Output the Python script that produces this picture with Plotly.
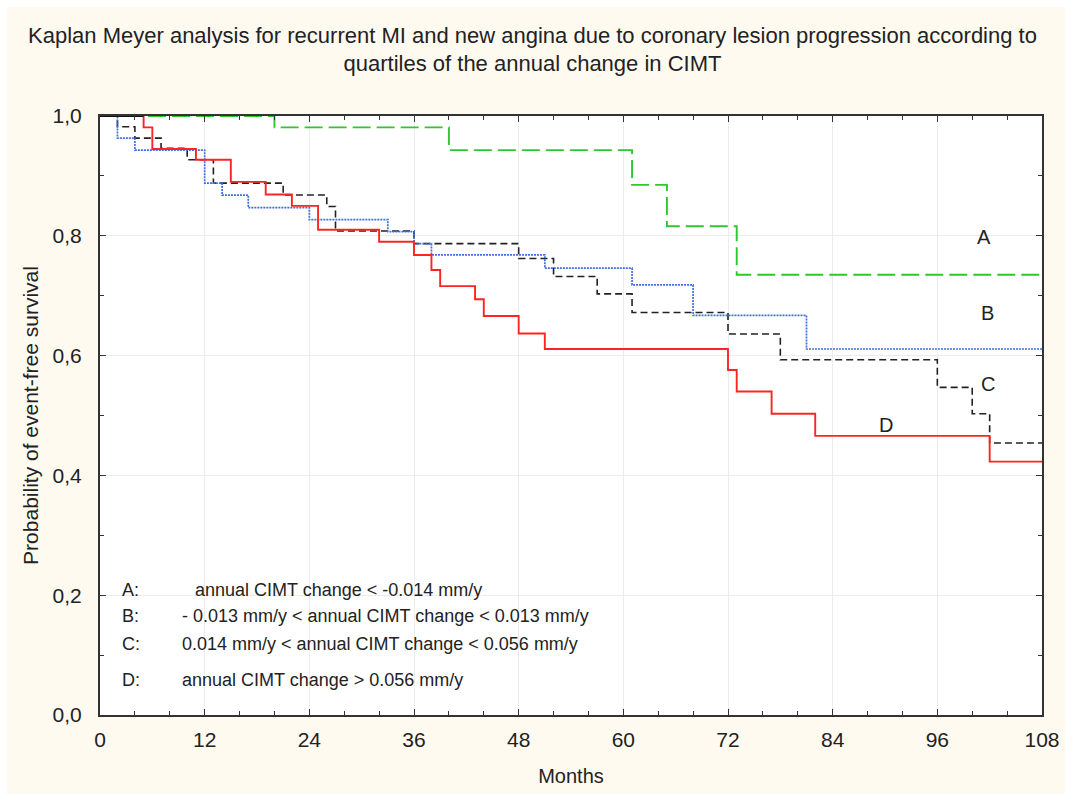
import plotly.graph_objects as go

# ---- data (months, survival probability), step functions ----
a_t = [0, 20, 40, 61, 65, 73, 108]
a_s = [1.0, 0.981, 0.943, 0.885, 0.816, 0.735, 0.735]

b_t = [0, 2, 4, 12, 14, 17, 24, 33, 36, 38, 51, 61, 68, 81, 108]
b_s = [1.0, 0.963, 0.943, 0.888, 0.868, 0.847, 0.827, 0.807, 0.787, 0.768, 0.746, 0.718, 0.667, 0.611, 0.611]

c_t = [0, 2, 4, 7, 10, 13, 21, 26, 27, 36, 48, 52, 57, 61, 72, 78, 96, 100, 102, 108]
c_s = [1.0, 0.982, 0.963, 0.946, 0.927, 0.888, 0.868, 0.849, 0.808, 0.787, 0.762, 0.732, 0.703, 0.672, 0.636, 0.593, 0.547, 0.503, 0.454, 0.454]

d_t = [0, 5, 6, 11, 15, 19, 22, 25, 32, 36, 38, 39, 43, 44, 48, 51, 72, 73, 77, 82, 102, 108]
d_s = [1.0, 0.981, 0.945, 0.927, 0.890, 0.869, 0.850, 0.810, 0.790, 0.768, 0.743, 0.716, 0.694, 0.666, 0.637, 0.611, 0.576, 0.540, 0.503, 0.466, 0.423, 0.423]

common_t = [0, 5]
common_s = [1.0, 1.0]

curve_labels = ["A", "B", "C", "D"]
curve_label_x = [101.4, 101.8, 101.8, 90.1]
curve_label_y = [0.798, 0.671, 0.553, 0.484]

legend_keys = ["A:", "B:", "C:", "D:"]
legend_texts = ["annual CIMT change < -0.014 mm/y",
                "- 0.013 mm/y < annual CIMT change < 0.013 mm/y",
                "0.014 mm/y < annual CIMT change < 0.056 mm/y",
                "annual CIMT change > 0.056 mm/y"]
legend_key_x = 2.3
legend_text_x = [10.66, 9.17, 9.17, 9.17]
legend_y = [0.209, 0.165, 0.119, 0.058]

x_ticks = [0, 12, 24, 36, 48, 60, 72, 84, 96, 108]
y_ticks = [0.0, 0.2, 0.4, 0.6, 0.8, 1.0]

title_text = ("Kaplan Meyer analysis for recurrent MI and new angina due to coronary lesion progression according to"
              "<br>quartiles of the annual change in CIMT")

FONT = "Liberation Sans, Arial, sans-serif"
TXT = "#222222"

fig = go.Figure()
fig.add_trace(go.Scatter(x=c_t, y=c_s, mode="lines", line_shape="hv",
                         line=dict(color="#222222", width=1.6, dash="7px,4px"), name="C"))
fig.add_trace(go.Scatter(x=b_t, y=b_s, mode="lines", line_shape="hv",
                         line=dict(color="#3f6fe0", width=1.7, dash="2px,1px"), name="B"))
fig.add_trace(go.Scatter(x=a_t, y=a_s, mode="lines", line_shape="hv",
                         line=dict(color="#2ec82e", width=1.9, dash="18px,6px"), name="A"))
fig.add_trace(go.Scatter(x=d_t, y=d_s, mode="lines", line_shape="hv",
                         line=dict(color="#ff2424", width=1.9), name="D"))
fig.add_trace(go.Scatter(x=common_t, y=common_s, mode="lines",
                         line=dict(color="#111111", width=1.9), name="start"))

annotations = []
for lab, lx, ly in zip(curve_labels, curve_label_x, curve_label_y):
    annotations.append(dict(x=lx, y=ly, text=lab, showarrow=False,
                            font=dict(family=FONT, size=20, color=TXT)))
for k, t, tx, ly in zip(legend_keys, legend_texts, legend_text_x, legend_y):
    annotations.append(dict(x=legend_key_x, y=ly, text=k, showarrow=False, xanchor="left",
                            font=dict(family=FONT, size=18, color=TXT)))
    annotations.append(dict(x=tx, y=ly, text=t, showarrow=False, xanchor="left",
                            font=dict(family=FONT, size=18, color=TXT)))

fig.update_layout(
    width=1065, height=794,
    margin=dict(l=100, r=23, t=116, b=79, autoexpand=False),
    paper_bgcolor="#fffaf0",
    plot_bgcolor="#ffffff",
    separators=",.",
    showlegend=False,
    title=dict(text=title_text, x=0.5, xanchor="center", y=0.946, yanchor="middle",
               font=dict(family=FONT, size=22, color=TXT)),
    annotations=annotations,
    shapes=[dict(type="rect", xref="paper", yref="paper",
                 x0=-100/942, x1=(942+23)/942 + 0.03,
                 y0=-79/599 - 0.03, y1=(599+116)/599,
                 line=dict(color="#ffffff", width=14), fillcolor="rgba(0,0,0,0)", layer="below")],
)
fig.update_xaxes(range=[0, 108], tickvals=x_ticks, ticks="inside", ticklen=6, tickcolor="#333",
                 showline=True, linecolor="#333", linewidth=2, mirror="ticks", automargin=False,
                 showgrid=True, gridcolor="#ececec", gridwidth=1, zeroline=False,
                 minor=dict(dtick=4, ticks="inside", ticklen=4, tickcolor="#333", showgrid=False),
                 ticklabelstandoff=5,
                 tickfont=dict(family=FONT, size=21, color=TXT),
                 title=dict(text="Months", font=dict(family=FONT, size=20, color=TXT), standoff=19))
fig.update_yaxes(range=[0, 1.0], tickvals=y_ticks, tickformat=".1f", ticks="inside", ticklen=6,
                 tickcolor="#333", showline=True, linecolor="#333", linewidth=2, mirror="ticks",
                 automargin=False,
                 showgrid=True, gridcolor="#ececec", gridwidth=1, zeroline=False,
                 minor=dict(dtick=0.1, ticks="inside", ticklen=4, tickcolor="#333", showgrid=False),
                 ticklabelstandoff=12,
                 tickfont=dict(family=FONT, size=21, color=TXT),
                 title=dict(text="Probability of event-free survival",
                            font=dict(family=FONT, size=21, color=TXT), standoff=8))

fig.write_html("out.html")
